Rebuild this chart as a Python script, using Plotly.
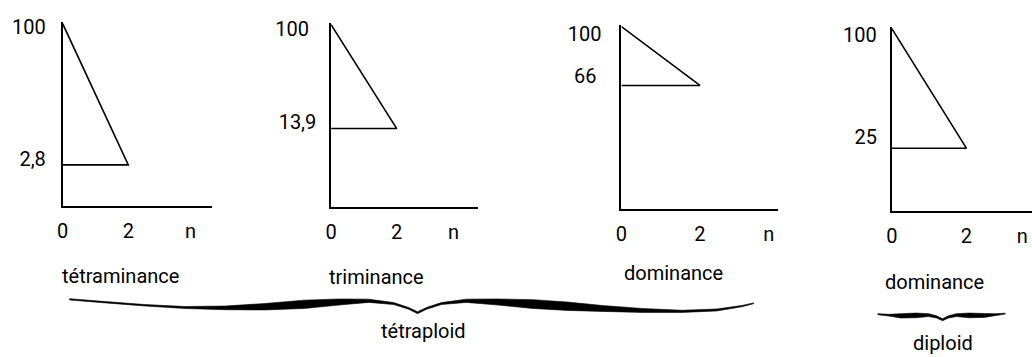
import plotly.graph_objects as go

# ---------------- data ----------------
top_value = 100
tip_x = 2
low_values = [2.8, 13.9, 66, 25]
low_labels = ["2,8", "13,9", "66", "25"]
top_label = "100"
x_tick_labels = ["0", "2", "n"]
n_positions = [3.9, 3.73, 3.75, 3.5]
panel_titles = ["tétraminance", "triminance", "dominance", "dominance"]
group_labels = ["tétraploid", "diploid"]

# ---------------- layout (pixel geometry of the reference) ----------------
W, H = 1032, 357
FONT = "Roboto, Liberation Sans, sans-serif"
NUM_SIZE = 20
WORD_SIZE = 20
# label offsets: (standoff px, shift px; negative shift = up)
geom = [
    dict(x0=57, ux=33.0, xend=207, y100=17, ylow=161, ybot=203,
         top_off=(16, 3), low_off=(11, -6)),
    dict(x0=327, ux=33.0, xend=475, y100=18, ylow=124, ybot=204,
         top_off=(21, 4), low_off=(9, -7)),
    dict(x0=619, ux=39.5, xend=777, y100=20, ylow=80, ybot=206,
         top_off=(19, 7), low_off=(19, -9)),
    dict(x0=891, ux=37.5, xend=1032, y100=22, ylow=144, ybot=208,
         top_off=(14, 6), low_off=(9, -11)),
]
# text centres (pixel) of the panel titles and group labels
title_pos = [(115, 274), (373, 275), (671, 271), (934, 280)]
group_pos = [(420, 330), (942, 343)]

fig = go.Figure()
layout = dict(
    width=W, height=H, margin=dict(l=0, r=0, t=0, b=0),
    paper_bgcolor="white", plot_bgcolor="white", showlegend=False,
    font=dict(family=FONT, color="black", size=NUM_SIZE),
)

n = len(geom)
for i, g in enumerate(geom):
    v = low_values[i]
    s = (g["ylow"] - g["y100"]) / (top_value - v)
    ymin = v - (g["ybot"] - g["ylow"]) / s
    pad = 2
    ymax = top_value + pad / s
    ytop_px = g["y100"] - pad
    xmax = (g["xend"] - g["x0"]) / g["ux"]
    sfx = "" if i == 0 else str(i + 1)
    xa, ya = "x" + sfx, "y" + sfx
    ydom = [1 - g["ybot"] / H, 1 - ytop_px / H]
    fig.add_trace(go.Scatter(
        x=[0, tip_x, 0], y=[top_value, v, v], mode="lines",
        line=dict(color="black", width=1.6), xaxis=xa, yaxis=ya,
        hoverinfo="skip",
    ))
    layout["xaxis" + sfx] = dict(
        domain=[g["x0"] / W, g["xend"] / W], range=[0, xmax], anchor=ya,
        showgrid=False, zeroline=False, showline=True, linecolor="black", linewidth=1.6,
        ticks="", tickvals=[0, tip_x, n_positions[i]], ticktext=x_tick_labels,
        tickfont=dict(family=FONT, size=NUM_SIZE), ticklabelstandoff=6,
    )
    # main y axis: carries the low value label
    layout["yaxis" + sfx] = dict(
        domain=ydom, range=[ymin, ymax], anchor=xa,
        showgrid=False, zeroline=False, showline=True, linecolor="black", linewidth=1.6,
        ticks="", tickvals=[v], ticktext=[low_labels[i]],
        tickfont=dict(family=FONT, size=NUM_SIZE),
        ticklabelstandoff=g["low_off"][0], ticklabelshift=g["low_off"][1],
    )
    # overlaying twin y axis (same scale): carries the "100" label
    k = str(n + i + 1)
    layout["yaxis" + k] = dict(
        domain=ydom, range=[ymin, ymax], anchor=xa, overlaying=ya, side="left",
        showgrid=False, zeroline=False, showline=False,
        ticks="", tickvals=[top_value], ticktext=[top_label],
        tickfont=dict(family=FONT, size=NUM_SIZE),
        ticklabelstandoff=g["top_off"][0], ticklabelshift=g["top_off"][1],
    )
    fig.add_trace(go.Scatter(
        x=[0], y=[top_value], mode="markers", marker=dict(opacity=0),
        xaxis=xa, yaxis="y" + k, hoverinfo="skip",
    ))

annotations = []
for t, (px, py) in list(zip(panel_titles, title_pos)) + list(zip(group_labels, group_pos)):
    annotations.append(dict(text=t, x=px / W, y=1 - py / H, xref="paper", yref="paper",
                            showarrow=False, xanchor="center", yanchor="middle",
                            font=dict(family=FONT, size=WORD_SIZE)))
layout["annotations"] = annotations


def brace_path(pts):
    top = [(x, yt) for x, yt, yb in pts]
    bot = [(x, yb) for x, yt, yb in pts][::-1]
    poly = top + bot
    return "M " + " L ".join(f"{x / W:.5f},{1 - y / H:.5f}" for x, y in poly) + " Z"


brace_tetra = [
    (64, 297.5, 298.8), (100, 300.5, 301.8), (140, 303.5, 305), (180, 305.5, 307.5),
    (220, 305, 308.8), (260, 302.5, 309), (300, 299, 307.5), (335, 297.8, 304),
    (365, 298, 301.3), (390, 301.5, 303.5), (405, 306.5, 308.3), (414, 310.8, 312.8),
    (423, 306.5, 308.3), (438, 301.5, 303.5), (463, 298, 301.3), (495, 297.8, 304),
    (530, 298.5, 307.5), (565, 301, 309.5), (600, 304.5, 310.5), (640, 307.5, 311.5),
    (680, 309.3, 311.5), (715, 308, 310), (740, 304.5, 305.8), (752, 301.8, 302.6),
]
brace_di = [
    (877, 312.8, 313.8), (888, 313.5, 315.2), (900, 312.8, 317.2), (915, 312.2, 317),
    (928, 312.8, 315.8), (936, 315, 317.2), (942, 318, 320), (948, 315, 317.2),
    (956, 312.8, 315.8), (969, 312.2, 317), (984, 312.6, 316.6), (996, 312.8, 314.6),
    (1005, 312.3, 313.2),
]
layout["shapes"] = [
    dict(type="path", xref="paper", yref="paper", path=brace_path(b),
         fillcolor="black", line=dict(width=0.6, color="black"))
    for b in (brace_tetra, brace_di)
]

fig.update_layout(**layout)
fig.write_html("out.html", config={"displayModeBar": False},
               post_script="document.body.style.margin='0px';")
